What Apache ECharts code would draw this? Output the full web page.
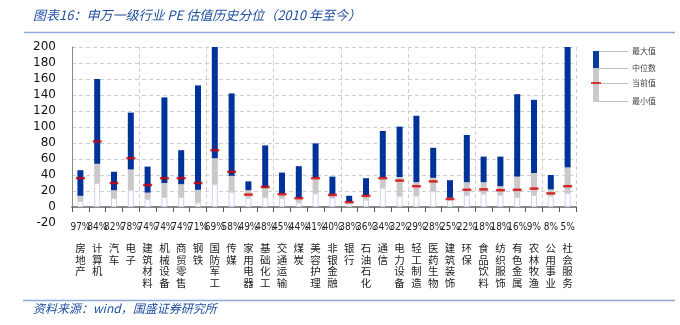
<!DOCTYPE html>
<html>
<head>
<meta charset="utf-8">
<script src="https://cdn.jsdelivr.net/npm/echarts@6/dist/echarts.min.js"></script>
<style>
html,body{margin:0;padding:0;background:#fff;}
#c{width:680px;height:325px;}
</style>
</head>
<body>
<div id="c"></div>
<script>
const categories = ['房地产','计算机','汽车','电子','建筑材料','机械设备','商贸零售','钢铁','国防军工','传媒','家用电器','基础化工','交通运输','煤炭','美容护理','非银金融','银行','石油石化','通信','电力设备','轻工制造','医药生物','建筑装饰','环保','食品饮料','纺织服饰','有色金属','农林牧渔','公用事业','社会服务'];
const percentiles = [97,84,82,78,74,74,74,71,69,58,49,48,45,44,41,40,38,36,34,32,29,28,25,22,18,18,16,9,8,5];
const maxV = [46,160,44,118,50.5,137,71,152,200,142,32,77,43,51,79.5,38,14,36,95,100.5,114,74,33.5,90,63,63,141,134,40,200];
const medV = [14,54,21,47,18,30,28.5,21.5,61,39,21,24,17,11.5,37,16,6.5,15,37.5,37.5,31,36.5,11.5,31,31,26,38,42.5,22,49.5];
const minV = [7.5,30,11,21,10,12.5,12.5,5.5,28.5,19,11.5,12.5,11,5.5,17,11,4.5,9,24,13.5,14,20,8.5,15,16.5,15,12.5,15,14,17.5];
const curV = [36,82,30,61,27.5,36,36,30,71,44,15.5,25,16,11,36,15,6,14,36,33,26,32,10,21.5,22,21,21.5,23,17,26];
const yTicks = {min:-20, max:200, interval:20};

const grayPart = medV.map((m,i)=>+(m-minV[i]).toFixed(2));
const bluePart = maxV.map((m,i)=>+(m-medV[i]).toFixed(2));

const chart = echarts.init(document.getElementById('c'), null, {renderer:'canvas'});
const blue = '#1f4fa0';
const nameFont = '"Noto Sans CJK SC", sans-serif';
const numFont = '"DejaVu Sans", sans-serif';

chart.setOption({
  animation:false,
  backgroundColor:'#fff',
  grid:[
    {left:72, right:104, top:47, height:176},
    {left:72, right:104, top:47, height:160}
  ],
  xAxis:[
    {type:'category', gridIndex:0, data:categories,
     axisLine:{onZero:true, lineStyle:{color:'#8a8a8a', width:2}},
     axisTick:{show:true, length:5, lineStyle:{color:'#555', width:1}},
     splitLine:{show:false},
     axisLabel:{interval:0, margin:-11, hideOverlap:false,
       formatter:(v,i)=>'{p|'+percentiles[i]+'%}\n'+v.split('').map(c=>'{n|'+c+'}').join('\n'),
       rich:{
         p:{fontFamily:'"DejaVu Sans Condensed","Liberation Sans Narrow",sans-serif', fontSize:10, color:'#222', lineHeight:30},
         n:{fontFamily:nameFont, fontSize:10.5, color:'#222', lineHeight:11.7}
       }}
    },
    {type:'category', gridIndex:1, data:categories,
     axisLine:{show:false}, axisTick:{show:false}, axisLabel:{show:false},
     splitLine:{show:true, lineStyle:{color:'#cfcfcf', type:[4,3], width:1}}
    }
  ],
  yAxis:[
    {type:'value', gridIndex:0, min:yTicks.min, max:yTicks.max, interval:yTicks.interval,
     axisLine:{show:false}, axisTick:{show:false}, splitLine:{show:false},
     axisLabel:{fontFamily:numFont, fontSize:12, color:'#111', margin:16, showMinLabel:true, showMaxLabel:true, hideOverlap:false}
    },
    {type:'value', gridIndex:1, min:0, max:200, interval:20,
     axisLine:{show:true, lineStyle:{color:'#8a8a8a', width:1}}, axisTick:{show:false}, axisLabel:{show:false},
     splitLine:{show:true, lineStyle:{color:'#cfcfcf', type:[4,3], width:1}}
    }
  ],
  series:[
    {type:'bar', stack:'a', xAxisIndex:0, yAxisIndex:0, data:minV, barWidth:6,
     itemStyle:{color:'#ffffff', borderColor:'#cfd2ec', borderWidth:1}, z:3},
    {type:'bar', stack:'a', xAxisIndex:0, yAxisIndex:0, data:grayPart, barWidth:6,
     itemStyle:{color:'#c9c9c9'}, z:3},
    {type:'bar', stack:'a', xAxisIndex:0, yAxisIndex:0, data:bluePart, barWidth:6,
     itemStyle:{color:'#003399'}, z:3},
    {type:'scatter', xAxisIndex:0, yAxisIndex:0, data:curV, symbol:'rect', symbolSize:[9,2.5],
     itemStyle:{color:'#d40000'}, z:5}
  ],
  graphic:[
    {type:'text', left:33, top:9, style:{text:'图表16：申万一级行业 PE 估值历史分位（2010 年至今）', font:'italic 13px '+nameFont, fill:blue}},
    {type:'line', shape:{x1:24,y1:32.5,x2:675,y2:32.5}, style:{stroke:'#8fa8d6', lineWidth:1.5}},
    {type:'line', shape:{x1:23,y1:300.5,x2:675,y2:300.5}, style:{stroke:'#8fa8d6', lineWidth:1.5}},
    {type:'text', left:33, top:302, style:{text:'资料来源：wind，国盛证券研究所', font:'italic 12px '+nameFont, fill:blue}},
    {type:'rect', shape:{x:593,y:51,width:6,height:17}, style:{fill:'#0a3c9a'}},
    {type:'rect', shape:{x:593,y:68,width:6,height:34}, style:{fill:'#c9c9c9'}},
    {type:'line', shape:{x1:591,y1:83,x2:601,y2:83}, style:{stroke:'#d40000', lineWidth:1.5}},
    {type:'line', shape:{x1:599,y1:51.5,x2:628,y2:51.5}, style:{stroke:'#bdbdbd', lineWidth:1}},
    {type:'line', shape:{x1:599,y1:68.5,x2:628,y2:68.5}, style:{stroke:'#bdbdbd', lineWidth:1}},
    {type:'line', shape:{x1:601,y1:83.5,x2:628,y2:83.5}, style:{stroke:'#bdbdbd', lineWidth:1}},
    {type:'line', shape:{x1:599,y1:101.5,x2:628,y2:101.5}, style:{stroke:'#bdbdbd', lineWidth:1}},
    {type:'text', left:632, top:47, style:{text:'最大值', font:'8px '+nameFont, fill:'#444'}},
    {type:'text', left:632, top:64, style:{text:'中位数', font:'8px '+nameFont, fill:'#444'}},
    {type:'text', left:632, top:79, style:{text:'当前值', font:'8px '+nameFont, fill:'#444'}},
    {type:'text', left:632, top:97, style:{text:'最小值', font:'8px '+nameFont, fill:'#444'}}
  ]
});
</script>
</body>
</html>
